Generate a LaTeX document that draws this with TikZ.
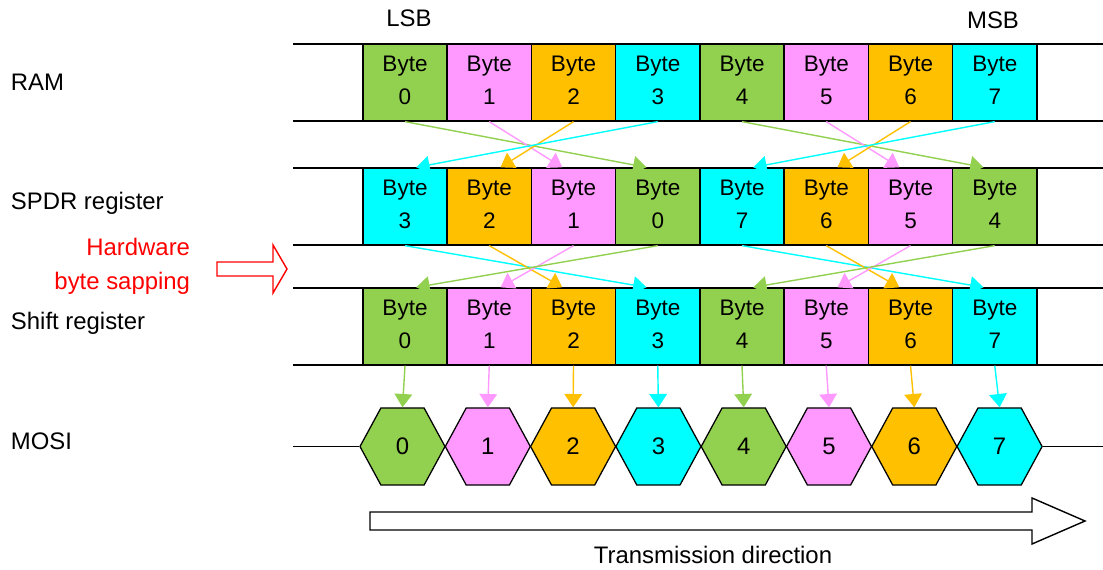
\documentclass[tikz,border=0pt]{standalone}
\usepackage{fontspec}
\setmainfont{Liberation Sans}
\usetikzlibrary{shapes.symbols,arrows.meta}

\definecolor{bgreen}{HTML}{92D050}
\definecolor{bpink}{HTML}{FF99FF}
\definecolor{borange}{HTML}{FFC000}
\definecolor{bcyan}{HTML}{00FFFF}

\begin{document}
\begin{tikzpicture}[x=0.025cm, y=-0.025cm,
    bytebox/.style={rectangle, draw, line width=0.9pt, minimum width=2.106cm, minimum height=1.925cm,
        inner sep=0pt, align=center, font=\fontsize{16}{23}\selectfont},
    hexbox/.style={signal, signal to=west and east, signal pointer angle=123, draw, line width=0.9pt,
        minimum width=2.125cm, minimum height=1.925cm, inner sep=0pt, font=\fontsize{17}{20}\selectfont},
    rowlabel/.style={anchor=west, font=\fontsize{17}{20}\selectfont},
    swap/.style={line width=1pt, -{Triangle[width=12.5pt,length=9.5pt]}}]
    \useasboundingbox (0,0) rectangle (1103,570);

    % bus lines
    \foreach \y in {44,121,168,245,288,365}
        \draw[line width=0.9pt] (293,\y) -- (1103,\y);

    % RAM, shift register, MOSI
    \foreach \i/\c in {0/bgreen,1/bpink,2/borange,3/bcyan,4/bgreen,5/bpink,6/borange,7/bcyan} {
        \node[bytebox, fill=\c] (ram\i) at ({405+84.25*\i},82.5) {Byte\\\i\vphantom{y}};
        \node[bytebox, fill=\c] (sh\i) at ({405+84.25*\i},326.5) {Byte\\\i\vphantom{y}};
        \node[hexbox, fill=\c] (mosi\i) at ({402.5+85.3*\i},446.5) {\i};
        \draw[swap, \c] (sh\i.south) -- (mosi\i.north);
    }

    % SPDR register
    \foreach \j/\b/\c in {0/3/bcyan,1/2/borange,2/1/bpink,3/0/bgreen,4/7/bcyan,5/6/borange,6/5/bpink,7/4/bgreen}
        \node[bytebox, fill=\c] (spdr\j) at ({405+84.25*\j},206.5) {Byte\\\b\vphantom{y}};

    % byte swapping
    \foreach \i/\j/\s/\c in {0/3/-/bgreen,1/2/-/bpink,2/1/+/borange,3/0/+/bcyan,
                             4/7/-/bgreen,5/6/-/bpink,6/5/+/borange,7/4/+/bcyan}
        \draw[swap, \c] (ram\i.south) -- ([xshift=\s0.28cm]spdr\j.north);
    \foreach \j/\i/\s/\c in {0/3/-/bcyan,1/2/-/borange,2/1/+/bpink,3/0/+/bgreen,
                             4/7/-/bcyan,5/6/-/borange,6/5/+/bpink,7/4/+/bgreen}
        \draw[swap, \c] (spdr\j.south) -- ([xshift=\s0.28cm]sh\i.north);

    \draw[line width=0.9pt] (293,446.5) -- (mosi0.west);
    \draw[line width=0.9pt] (mosi7.east) -- (1103,446.5);

    % labels
    \node[rowlabel] (ramlbl) at (6,82) {RAM};
    \node[rowlabel] (spdrlbl) at (6,203) {SPDR register};
    \node[rowlabel] (shlbl) at (6,323) {Shift register};
    \node[rowlabel] (mosilbl) at (6,441) {MOSI};
    \node[rowlabel, anchor=east, red] (hw1) at (195,247) {Hardware};
    \node[rowlabel, anchor=east, red] (hw2) at (195,283) {byte sapping};
    \node[rowlabel, anchor=center] (lsb) at (409,18) {LSB};
    \node[rowlabel, anchor=center] (msb) at (993,20) {MSB};
    \node[rowlabel, anchor=center] (dir) at (713,555) {Transmission direction};

    % hollow arrows
    \draw[red, line width=1pt] (217,262) -- (273,262) -- (273,245) -- (287,269) -- (273,293) -- (273,276) -- (217,276) -- cycle;
    \draw[line width=1pt] (370,512) -- (1032,512) -- (1032,498) -- (1085,521) -- (1032,544) -- (1032,530) -- (370,530) -- cycle;
\end{tikzpicture}
\end{document}
